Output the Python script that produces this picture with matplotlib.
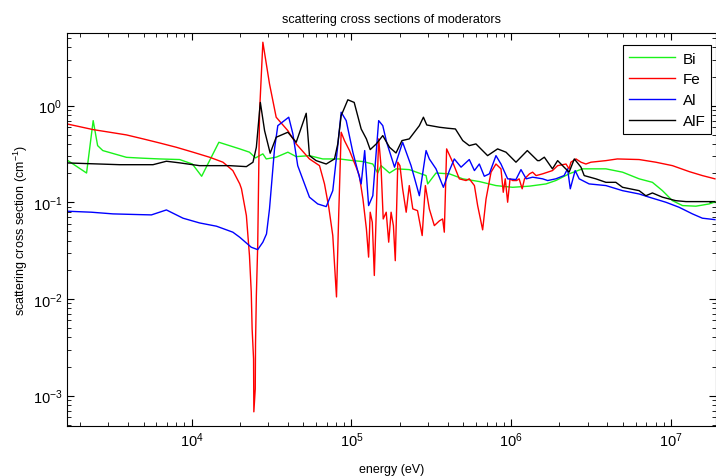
import matplotlib
matplotlib.use('Agg')
import matplotlib.pyplot as plt
import numpy as np
from matplotlib.ticker import LogLocator, NullFormatter

plt.rcParams['font.family'] = ['Liberation Sans', 'DejaVu Sans']
plt.rcParams['mathtext.fontset'] = 'custom'
plt.rcParams['mathtext.rm'] = 'Liberation Sans'

# energies (eV) and scattering cross sections (1/cm) per moderator

bi_energy = [1.66e3, 2.20e3, 2.42e3, 2.58e3, 2.78e3, 3.91e3, 4.94e3, 6.31e3, 8.41e3, 1.01e4,
             1.155e4, 1.48e4, 2.0e4, 2.30e4, 2.51e4, 2.79e4, 2.93e4, 3.38e4, 4.0e4, 4.51e4,
             5.46e4, 6.61e4, 8.41e4, 1.02e5, 1.18e5, 1.36e5, 1.46e5, 1.53e5, 1.73e5, 1.90e5,
             2.30e5, 2.93e5, 3.0e5, 3.38e5, 4.10e5, 4.97e5, 6.31e5, 8.02e5, 1.02e6, 1.30e6,
             1.65e6, 1.90e6, 2.30e6, 2.79e6, 3.91e6, 4.97e6, 6.31e6, 7.64e6, 8.83e6, 1.02e7,
             1.18e7, 1.43e7, 1.73e7, 1.88e7]
bi_sigma = [0.274, 0.201, 0.70, 0.386, 0.343, 0.292, 0.286, 0.281, 0.277, 0.249,
            0.186, 0.418, 0.357, 0.330, 0.288, 0.317, 0.281, 0.293, 0.330, 0.297,
            0.304, 0.281, 0.281, 0.270, 0.264, 0.249, 0.201, 0.240, 0.201, 0.222,
            0.218, 0.189, 0.155, 0.201, 0.197, 0.175, 0.164, 0.149, 0.143, 0.147,
            0.155, 0.168, 0.197, 0.222, 0.222, 0.205, 0.175, 0.161, 0.132, 0.104,
            0.0925, 0.0912, 0.0962, 0.101]

fe_energy = [1.66e3, 2.42e3, 3.07e3, 3.91e3, 4.97e3, 6.31e3, 8.02e3, 1.02e4, 1.30e4, 1.57e4,
             1.81e4, 2.0e4, 2.05e4, 2.20e4, 2.30e4, 2.36e4, 2.39e4, 2.44e4, 2.45e4, 2.50e4,
             2.51e4, 2.54e4, 2.59e4, 2.66e4, 2.79e4, 3.07e4, 3.38e4, 4.0e4, 4.51e4, 5.46e4,
             6.31e4, 6.78e4, 7.21e4, 7.64e4, 8.06e4, 8.33e4, 8.62e4, 9.04e4, 9.72e4, 1.07e5,
             1.12e5, 1.18e5, 1.24e5, 1.28e5, 1.31e5, 1.35e5, 1.39e5, 1.44e5, 1.48e5, 1.53e5,
             1.58e5, 1.65e5, 1.71e5, 1.77e5, 1.83e5, 1.88e5, 1.95e5, 2.01e5, 2.09e5, 2.20e5,
             2.30e5, 2.42e5, 2.59e5, 2.77e5, 2.90e5, 3.07e5, 3.30e5, 3.55e5, 3.72e5, 3.81e5,
             3.94e5, 4.30e5, 4.73e5, 5.21e5, 5.46e5, 5.88e5, 6.16e5, 6.62e5, 6.95e5, 7.47e5,
             8.02e5, 8.62e5, 8.91e5, 9.17e5, 9.49e5, 9.82e5, 1.02e6, 1.08e6, 1.12e6, 1.17e6,
             1.21e6, 1.30e6, 1.36e6, 1.43e6, 1.57e6, 1.81e6, 1.95e6, 2.20e6, 2.30e6, 2.36e6,
             2.54e6, 2.73e6, 2.93e6, 3.15e6, 3.91e6, 4.61e6, 6.31e6, 8.02e6, 1.02e7, 1.30e7,
             1.57e7, 1.88e7]
fe_sigma = [0.647, 0.565, 0.531, 0.498, 0.453, 0.411, 0.371, 0.330, 0.292, 0.260,
            0.213, 0.155, 0.138, 0.0729, 0.0281, 0.0118, 0.00491, 0.00240, 0.00068, 0.00117,
            0.00343, 0.0108, 0.0357, 0.855, 4.53, 1.68, 0.759, 0.551, 0.402, 0.281,
            0.2395, 0.155, 0.089, 0.0453, 0.0105, 0.079, 0.531, 0.435, 0.343, 0.231,
            0.189, 0.108, 0.0531, 0.0271, 0.079, 0.0622, 0.0175, 0.117, 0.453, 0.240,
            0.0673, 0.079, 0.0387, 0.079, 0.0574, 0.0249, 0.260, 0.2395, 0.138, 0.079,
            0.149, 0.0855, 0.082, 0.0453, 0.149, 0.0855, 0.0574, 0.0643, 0.0673, 0.0491,
            0.357, 0.260, 0.175, 0.168, 0.175, 0.149, 0.0925, 0.0519, 0.108, 0.205,
            0.249, 0.222, 0.127, 0.175, 0.1002, 0.175, 0.168, 0.168, 0.175, 0.138,
            0.175, 0.197, 0.205, 0.189, 0.197, 0.213, 0.2395, 0.249, 0.222, 0.260,
            0.281, 0.260, 0.249, 0.260, 0.270, 0.281, 0.277, 0.260, 0.2395, 0.2077,
            0.189, 0.175]

al_energy = [1.66e3, 2.36e3, 3.22e3, 4.73e3, 5.60e3, 6.95e3, 8.83e3, 1.12e4, 1.43e4, 1.81e4,
             2.0e4, 2.36e4, 2.59e4, 2.79e4, 2.94e4, 3.07e4, 3.30e4, 3.46e4, 4.05e4, 4.30e4,
             4.61e4, 5.46e4, 6.15e4, 6.95e4, 7.64e4, 8.21e4, 8.62e4, 9.27e4, 1.02e5, 1.15e5,
             1.21e5, 1.28e5, 1.36e5, 1.48e5, 1.57e5, 1.66e5, 1.86e5, 2.09e5, 2.36e5, 2.66e5,
             2.93e5, 3.07e5, 3.38e5, 3.76e5, 4.10e5, 4.40e5, 4.85e5, 5.46e5, 5.88e5, 6.31e5,
             6.78e5, 7.29e5, 8.02e5, 8.62e5, 9.49e5, 1.07e6, 1.15e6, 1.24e6, 1.36e6, 1.57e6,
             1.69e6, 1.90e6, 2.14e6, 2.25e6, 2.34e6, 2.51e6, 2.66e6, 3.07e6, 3.91e6, 4.97e6,
             6.31e6, 7.29e6, 9.27e6, 1.12e7, 1.36e7, 1.57e7, 1.88e7]
al_sigma = [0.0809, 0.0790, 0.0759, 0.0746, 0.0741, 0.0834, 0.0685, 0.0612, 0.0566, 0.0491,
            0.0435, 0.0343, 0.0324, 0.0387, 0.0471, 0.0855, 0.357, 0.621, 0.759, 0.510,
            0.2395, 0.113, 0.0962, 0.0903, 0.132, 0.386, 0.855, 0.700, 0.330, 0.155,
            0.343, 0.0925, 0.117, 0.700, 0.621, 0.418, 0.231, 0.418, 0.2395, 0.117,
            0.343, 0.281, 0.222, 0.143, 0.213, 0.281, 0.231, 0.277, 0.213, 0.249,
            0.186, 0.197, 0.304, 0.249, 0.175, 0.172, 0.218, 0.175, 0.182, 0.175,
            0.168, 0.175, 0.189, 0.222, 0.138, 0.213, 0.175, 0.155, 0.149, 0.132,
            0.122, 0.113, 0.1002, 0.0890, 0.0759, 0.0685, 0.0662]

alf_energy = [1.66e3, 3.55e3, 5.73e3, 6.95e3, 8.41e3, 1.12e4, 1.73e4, 2.20e4, 2.42e4, 2.54e4,
              2.69e4, 2.86e4, 3.10e4, 3.38e4, 4.0e4, 4.51e4, 5.21e4, 5.46e4, 6.01e4, 6.95e4,
              7.83e4, 8.21e4, 8.62e4, 9.49e4, 1.04e5, 1.15e5, 1.24e5, 1.31e5, 1.43e5, 1.57e5,
              1.73e5, 1.90e5, 2.07e5, 2.30e5, 2.66e5, 2.82e5, 2.96e5, 3.55e5, 4.0e5, 4.47e5,
              4.97e5, 5.46e5, 6.01e5, 7.11e5, 8.21e5, 9.27e5, 1.07e6, 1.26e6, 1.46e6, 1.50e6,
              1.61e6, 1.81e6, 1.95e6, 2.14e6, 2.30e6, 2.48e6, 2.73e6, 2.86e6, 3.38e6, 3.91e6,
              4.51e6, 4.97e6, 6.31e6, 6.95e6, 7.64e6, 8.83e6, 1.07e7, 1.24e7, 1.88e7]
alf_sigma = [0.2556, 0.245, 0.245, 0.266, 0.256, 0.2395, 0.2395, 0.234, 0.260, 0.371,
             1.08, 0.551, 0.322, 0.471, 0.531, 0.418, 0.834, 0.304, 0.270, 0.249,
             0.281, 0.402, 0.788, 1.15, 1.08, 0.574, 0.453, 0.351, 0.402, 0.490,
             0.371, 0.324, 0.435, 0.453, 0.621, 0.759, 0.631, 0.598, 0.584, 0.574,
             0.435, 0.386, 0.402, 0.304, 0.357, 0.330, 0.260, 0.343, 0.270, 0.270,
             0.293, 0.222, 0.270, 0.231, 0.205, 0.281, 0.231, 0.189, 0.175, 0.161,
             0.161, 0.143, 0.132, 0.117, 0.125, 0.113, 0.104, 0.1017, 0.1017]

fig = plt.figure(figsize=(7.16, 4.77), dpi=100)
ax = fig.add_axes([0.0936, 0.1048, 0.9064, 0.824])

ax.loglog(bi_energy, bi_sigma, color=(0.1, 0.95, 0.1), lw=1, label='Bi')
ax.loglog(fe_energy, fe_sigma, color='red', lw=1, label='Fe')
ax.loglog(al_energy, al_sigma, color='blue', lw=1, label='Al')
ax.loglog(alf_energy, alf_sigma, color='black', lw=1, label='AlF')

ax.set_xlim(1.66e3, 1.91e7)
ax.set_ylim(4.85e-4, 5.65)

ax.xaxis.set_major_locator(LogLocator(base=10, numticks=20))
ax.xaxis.set_minor_locator(LogLocator(base=10, subs=np.arange(2, 10), numticks=20))
ax.xaxis.set_minor_formatter(NullFormatter())
ax.yaxis.set_major_locator(LogLocator(base=10, numticks=20))
ax.yaxis.set_minor_locator(LogLocator(base=10, subs=np.arange(2, 10), numticks=20))
ax.yaxis.set_minor_formatter(NullFormatter())
ax.tick_params(which='both', direction='in', top=True, right=True, labelsize=10.5)
ax.tick_params(which='major', length=5)
ax.tick_params(which='minor', length=3)

ax.set_title('scattering cross sections of moderators', fontsize=9, pad=8)
ax.set_xlabel('energy (eV)', fontsize=9, labelpad=10)
ax.set_ylabel('scattering cross section (cm$^{-1}$)', fontsize=9, labelpad=2)

leg = ax.legend(loc='upper right', fontsize=11, fancybox=False, framealpha=1,
                edgecolor='black', handlelength=3.0, handletextpad=0.5,
                labelspacing=0.45, borderaxespad=0.3, bbox_to_anchor=(1.0, 0.98))
leg.get_frame().set_linewidth(0.8)

fig.savefig('out.png', dpi=100)
